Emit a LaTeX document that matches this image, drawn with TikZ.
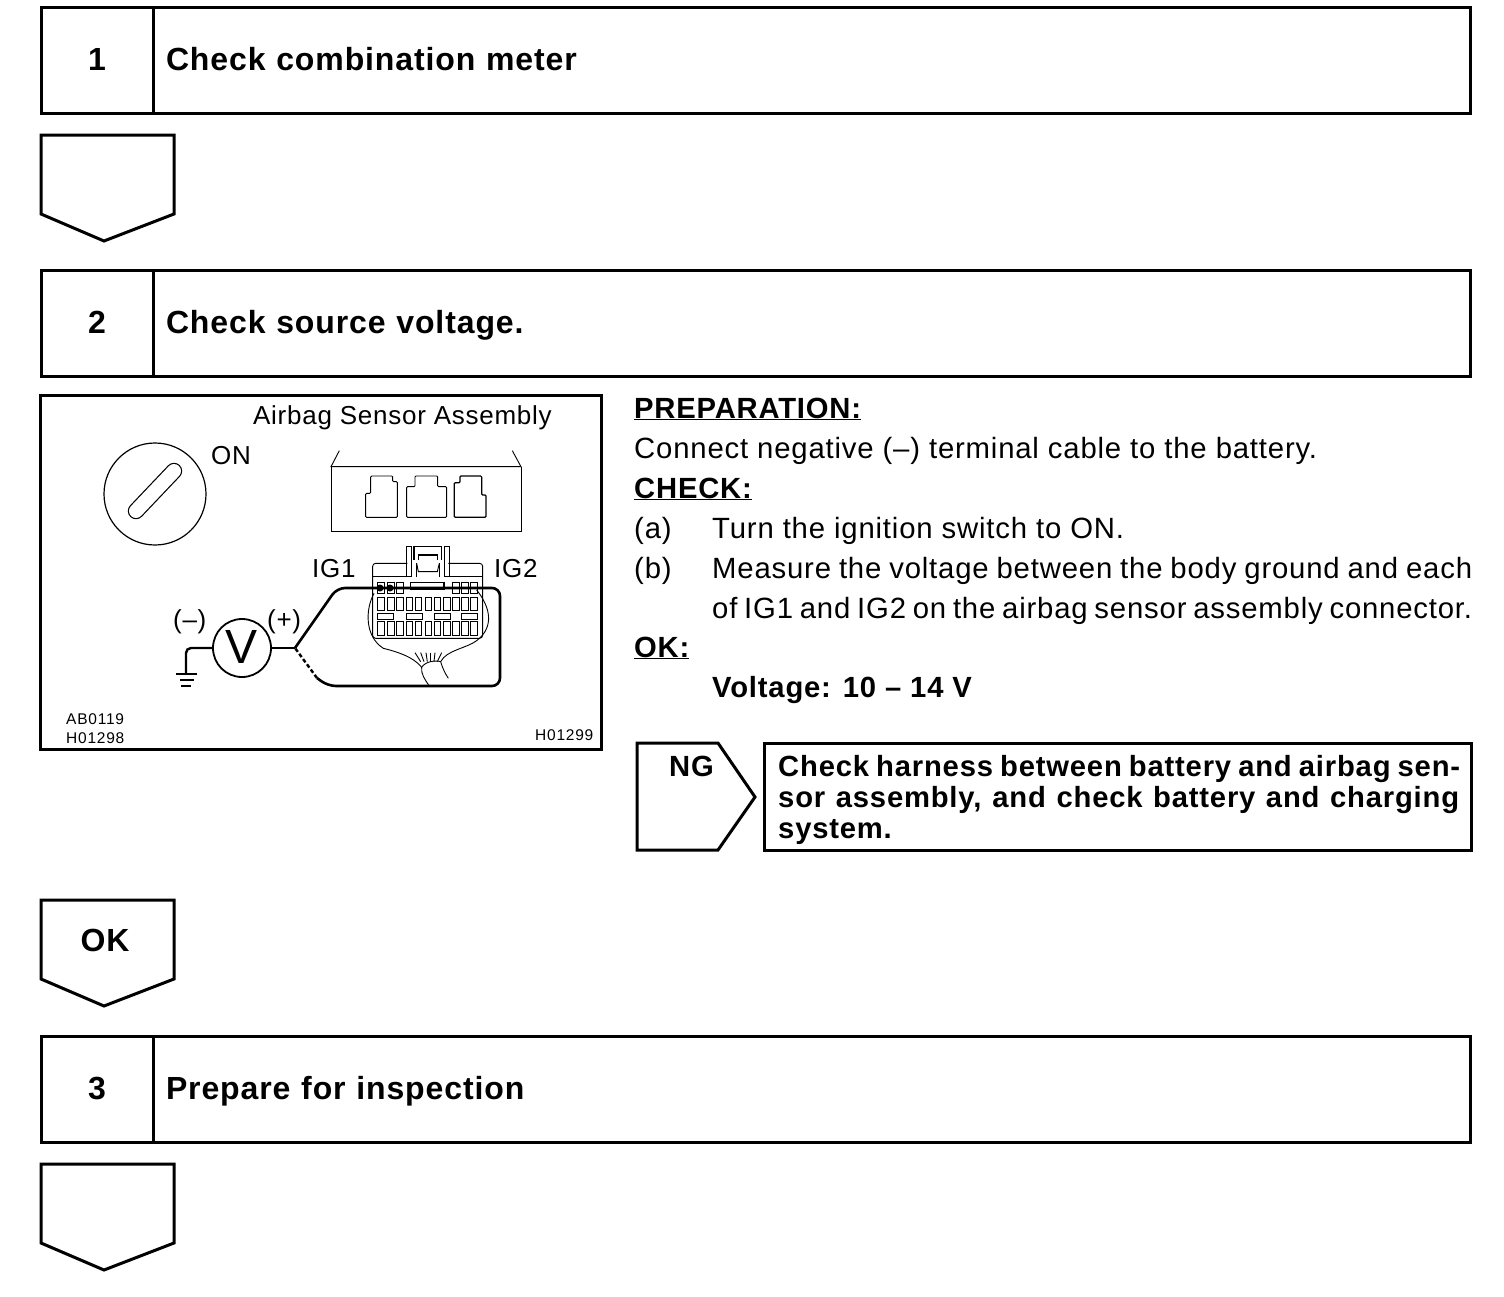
\documentclass[tikz,border=0pt]{standalone}
\usepackage{fontspec}
\setmainfont[LetterSpace=2.8]{Liberation Sans}
\usetikzlibrary{positioning}
\tikzset{
  numbox/.style={draw,line width=3pt,minimum width=112pt,minimum height=106pt,inner sep=0pt,text height=22pt,text depth=2pt,font=\fontsize{32}{36}\selectfont\bfseries},
  titlebox/.style={draw,line width=3pt,minimum width=1317pt,minimum height=106pt,inner sep=0pt,text width=1291pt,text height=22pt,text depth=2pt,align=left,font=\fontsize{32}{36}\selectfont\bfseries},
  body/.style={anchor=base west,inner sep=0pt,font=\fontsize{29.3}{34}\selectfont},
  bodyb/.style={body,font=\fontsize{29.2}{34}\selectfont\bfseries},
  figtxt/.style={anchor=base west,inner sep=0pt,font=\fontsize{26}{30}\selectfont},
  codetxt/.style={anchor=base west,inner sep=0pt,font=\fontsize{15.5}{18}\selectfont\addfontfeature{LetterSpace=5}},
  downtag/.pic={\draw[line width=3pt,line join=miter] (0,0) -- (133,0) -- (133,79) -- (63,106) -- (0,79) -- cycle;},
  thin wire/.style={line width=0.9pt},
  cell/.style={line width=0.9pt}
}
\begin{document}
\begin{tikzpicture}[x=1pt,y=-1pt]
\useasboundingbox (0,0) rectangle (1504,1296);

\node[numbox] (num1) at (97,60) {1};
\node[titlebox,right=-3pt of num1] (title1) {Check combination meter};
\node[numbox] (num2) at (97,323) {2};
\node[titlebox,right=-3pt of num2] (title2) {Check source voltage.};
\node[numbox] (num3) at (97,1089) {3};
\node[titlebox,right=-3pt of num3] (title3) {Prepare for inspection};

\pic at (41,135) {downtag};
\pic at (41,900) {downtag};
\pic at (41,1164) {downtag};
\node[font=\fontsize{32}{36}\selectfont\bfseries] (oktag) at (105,940) {OK};

% figure frame
\node[draw,line width=3pt,minimum width=561pt,minimum height=354pt,inner sep=0pt] (frame) at (321,572.5) {};
\node[figtxt] (sensorlabel) at (253,424) {Airbag Sensor Assembly};
\node[figtxt] (onlabel) at (211,464) {ON};
\node[figtxt] (ig1) at (312,577) {IG1};
\node[figtxt] (ig2) at (494,577) {IG2};
\node[figtxt] (minus) at (173,628) {(--)};
\node[figtxt] (plus) at (267,628) {(+)};
\node[codetxt] (code1) at (66,724) {AB0119};
\node[codetxt] (code2) at (66,743) {H01298};
\node[codetxt] (code3) at (535,740) {H01299};

% ignition key
\node[draw,circle,line width=1.2pt,minimum size=102pt,inner sep=0pt] (key) at (155,494) {};
\draw[line width=1.2pt,double=white,double distance=14pt,line cap=round] (174,471) -- (136,511);

% meter and ground
\node[draw,circle,line width=1.8pt,minimum size=58pt,inner sep=0pt,text height=31pt,text depth=0pt,font=\fontsize{48}{50}\selectfont] (meter) at (242,648) {V};
\coordinate (gnd) at (186,674);
\coordinate (split) at (295,648);
\coordinate (bottomend) at (317,678);
\draw[line width=2.4pt,rounded corners=5pt] (meter.west) -| (gnd);
\draw[line width=2pt] (176,674) -- (197,674) (180,680) -- (194,680) (181,686) -- (191,686);
\draw[line width=2.4pt] (meter.east) -- (split);
\draw[line width=2.6pt,rounded corners=8pt] (split) -- (337,588) -- (500,588) -- (500,686) -- (328,686) -- (bottomend);
\draw[line width=2.4pt,dash pattern=on 4pt off 2.5pt] (bottomend) -- (split);
\fill (380,588) circle (3.5pt) (390,588) circle (3.5pt);

% upper connector
\begin{scope}[shift={(300,430)},x=0.3333pt,y=-0.3333pt]
\draw[thin wire] (118,62) -- (93,110) -- (663,110) -- (637,62);
\draw[thin wire] (93,110) -- (93,305) -- (663,305) -- (663,110);
\draw[thin wire,rounded corners=1pt] (212,138) -- (278,138) -- (278,155) -- (292,155) -- (292,262) -- (197,262) -- (197,190) -- (212,190) -- cycle;
\draw[thin wire,rounded corners=1pt] (320,170) -- (345,170) -- (345,138) -- (413,138) -- (413,170) -- (440,170) -- (440,262) -- (320,262) -- cycle;
\draw[line width=1.2pt,rounded corners=1pt] (463,158) -- (480,158) -- (480,138) -- (545,138) -- (545,195) -- (558,195) -- (558,262) -- (463,262) -- cycle;
% lower connector
\draw[thin wire,rounded corners=3pt] (445,400) -- (548,400) -- (548,625) -- (218,625) -- (218,400) -- (322,400);
\draw[thin wire] (218,440) -- (335,440) (432,440) -- (548,440);
\draw[thin wire] (320,440) -- (320,350) -- (335,350) -- (335,440) (350,440) -- (350,400);
\draw[thin wire] (432,440) -- (432,350) -- (447,350) -- (447,440) (418,440) -- (418,400);
\draw[line width=1.2pt] (342,390) -- (342,350) -- (425,350) -- (425,390) (355,390) -- (355,375) -- (412,375) -- (412,390);
\draw[thin wire] (350,400) -- (355,425) -- (412,425) -- (418,400);
% top row
\foreach \xa in {232,262,290,458,485,512} \draw[cell] (\xa,458) rectangle ++(20,32);
\draw[line width=1.6pt] (332,458) rectangle (432,478);
% second row
\foreach \xa in {232,262,290,318,345,375,402,430,458,485,512} \draw[cell] (\xa,503) rectangle ++(20,38);
% third row
\foreach \xa in {232,318,402,485} \draw[cell] (\xa,549) rectangle ++(48,18);
% fourth row
\foreach \xa in {232,262,290,318,345,375,402,430,458,485,512} \draw[cell] (\xa,575) rectangle ++(20,40);
% harness
\draw[thin wire] (222,490) .. controls (195,540) and (195,620) .. (250,655) .. controls (290,665) and (340,680) .. (365,712) .. controls (362,730) and (375,750) .. (388,768);
\draw[thin wire] (530,480) .. controls (570,530) and (585,590) .. (530,632) .. controls (500,655) and (440,660) .. (422,695) .. controls (428,715) and (435,730) .. (445,745);
\draw[thin wire] (365,712) .. controls (375,695) and (405,690) .. (422,695);
\foreach \xa/\xb in {345/362,362/372,378/382,392/392,405/402,425/412} \draw[thin wire] (\xa,668) -- (\xb,695);
\end{scope}

% right column
\node[bodyb] (prep) at (634,418) {\underline{PREPARATION:}};
\node[body] (prepline) at (634,458) {Connect negative (–) terminal cable to the battery.};
\node[bodyb] (check) at (634,498) {\underline{CHECK:}};
\node[body] (ma) at (634,538) {(a)};
\node[body] (la) at (712,538) {Turn the ignition switch to ON.};
\node[body] (mb) at (634,578) {(b)};
\node[body] (lb) at (712,578) {\makebox[760pt][s]{Measure the voltage between the body ground and each}};
\node[body] (lc) at (712,618) {\makebox[760pt][s]{of IG1 and IG2 on the airbag sensor assembly connector.}};
\node[bodyb] (ok) at (634,657) {\underline{OK:}};
\node[bodyb] (volt) at (712,697) {Voltage: 10 -- 14 V};

% NG branch
\draw[line width=3pt] (637,743) -- (718,743) -- (755,797) -- (718,850) -- (637,850) -- cycle;
\node[bodyb] (ng) at (669,776) {NG};
\node[draw,line width=3pt,minimum width=707pt,minimum height=107pt,inner sep=0pt] (harness) at (1117.5,796.5) {};
\node[bodyb] (h1) at (778,776) {\makebox[682pt][s]{Check harness between battery and airbag sen-}};
\node[bodyb] (h2) at (778,807) {\makebox[681pt][s]{sor assembly, and check battery and charging}};
\node[bodyb] (h3) at (778,838) {system.};
\end{tikzpicture}
\end{document}
